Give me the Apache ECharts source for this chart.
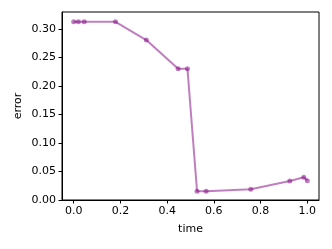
<!DOCTYPE html>
<html>
<head>
<meta charset="utf-8">
<script src="https://cdn.jsdelivr.net/npm/echarts@6/dist/echarts.min.js"></script>
<style>html,body{margin:0;padding:0;background:#fff}#c{width:332px;height:249px}</style>
</head>
<body>
<div id="c"></div>
<script>
var times = [0.0, 0.02, 0.045, 0.179, 0.311, 0.447, 0.487, 0.528, 0.567, 0.758, 0.925, 0.985, 1.0];
var errors = [0.3128, 0.3128, 0.3128, 0.3128, 0.2807, 0.2302, 0.2302, 0.0153, 0.0153, 0.0188, 0.0334, 0.0399, 0.0340];
var xTicks = [0.0, 0.2, 0.4, 0.6, 0.8, 1.0];
var yTicks = [0.00, 0.05, 0.10, 0.15, 0.20, 0.25, 0.30];

var font = 'DejaVu Sans';
var chart = echarts.init(document.getElementById('c'), null, {renderer: 'canvas'});
chart.setOption({
  animation: false,
  grid: {left: 62, right: 13, top: 12, bottom: 49, show: true, borderColor: '#000', borderWidth: 1, backgroundColor: 'transparent'},
  xAxis: {
    type: 'value', min: -0.05, max: 1.05,
    name: 'time', nameLocation: 'middle', nameGap: 24, nameMoveOverlap: false,
    nameTextStyle: {fontFamily: font, fontSize: 11, color: '#000'},
    axisLine: {show: true, onZero: false, lineStyle: {color: '#000', width: 1}},
    axisTick: {show: true, inside: false, length: 3.5, lineStyle: {color: '#000', width: 1}, customValues: xTicks},
    axisLabel: {fontFamily: font, fontSize: 11, color: '#000', margin: 6, customValues: xTicks,
      formatter: function (v) { return v.toFixed(1); }},
    splitLine: {show: false}
  },
  yAxis: {
    type: 'value', min: 0, max: 0.33,
    name: 'error', nameLocation: 'middle', nameGap: 38, nameRotate: 90, nameMoveOverlap: false,
    nameTextStyle: {fontFamily: font, fontSize: 11, color: '#000'},
    axisLine: {show: true, onZero: false, lineStyle: {color: '#000', width: 1}},
    axisTick: {show: true, inside: false, length: 3.5, lineStyle: {color: '#000', width: 1}, customValues: yTicks},
    axisLabel: {fontFamily: font, fontSize: 11, color: '#000', margin: 6, customValues: yTicks,
      formatter: function (v) { return v.toFixed(2); }},
    splitLine: {show: false}
  },
  series: [{
    type: 'line',
    data: times.map(function (t, i) { return [t, errors[i]]; }),
    symbol: 'circle', symbolSize: 5,
    lineStyle: {color: '#800080', width: 2, opacity: 0.5},
    itemStyle: {color: '#800080', opacity: 0.5, borderWidth: 0},
    emphasis: {disabled: true}
  }]
});
</script>
</body>
</html>
